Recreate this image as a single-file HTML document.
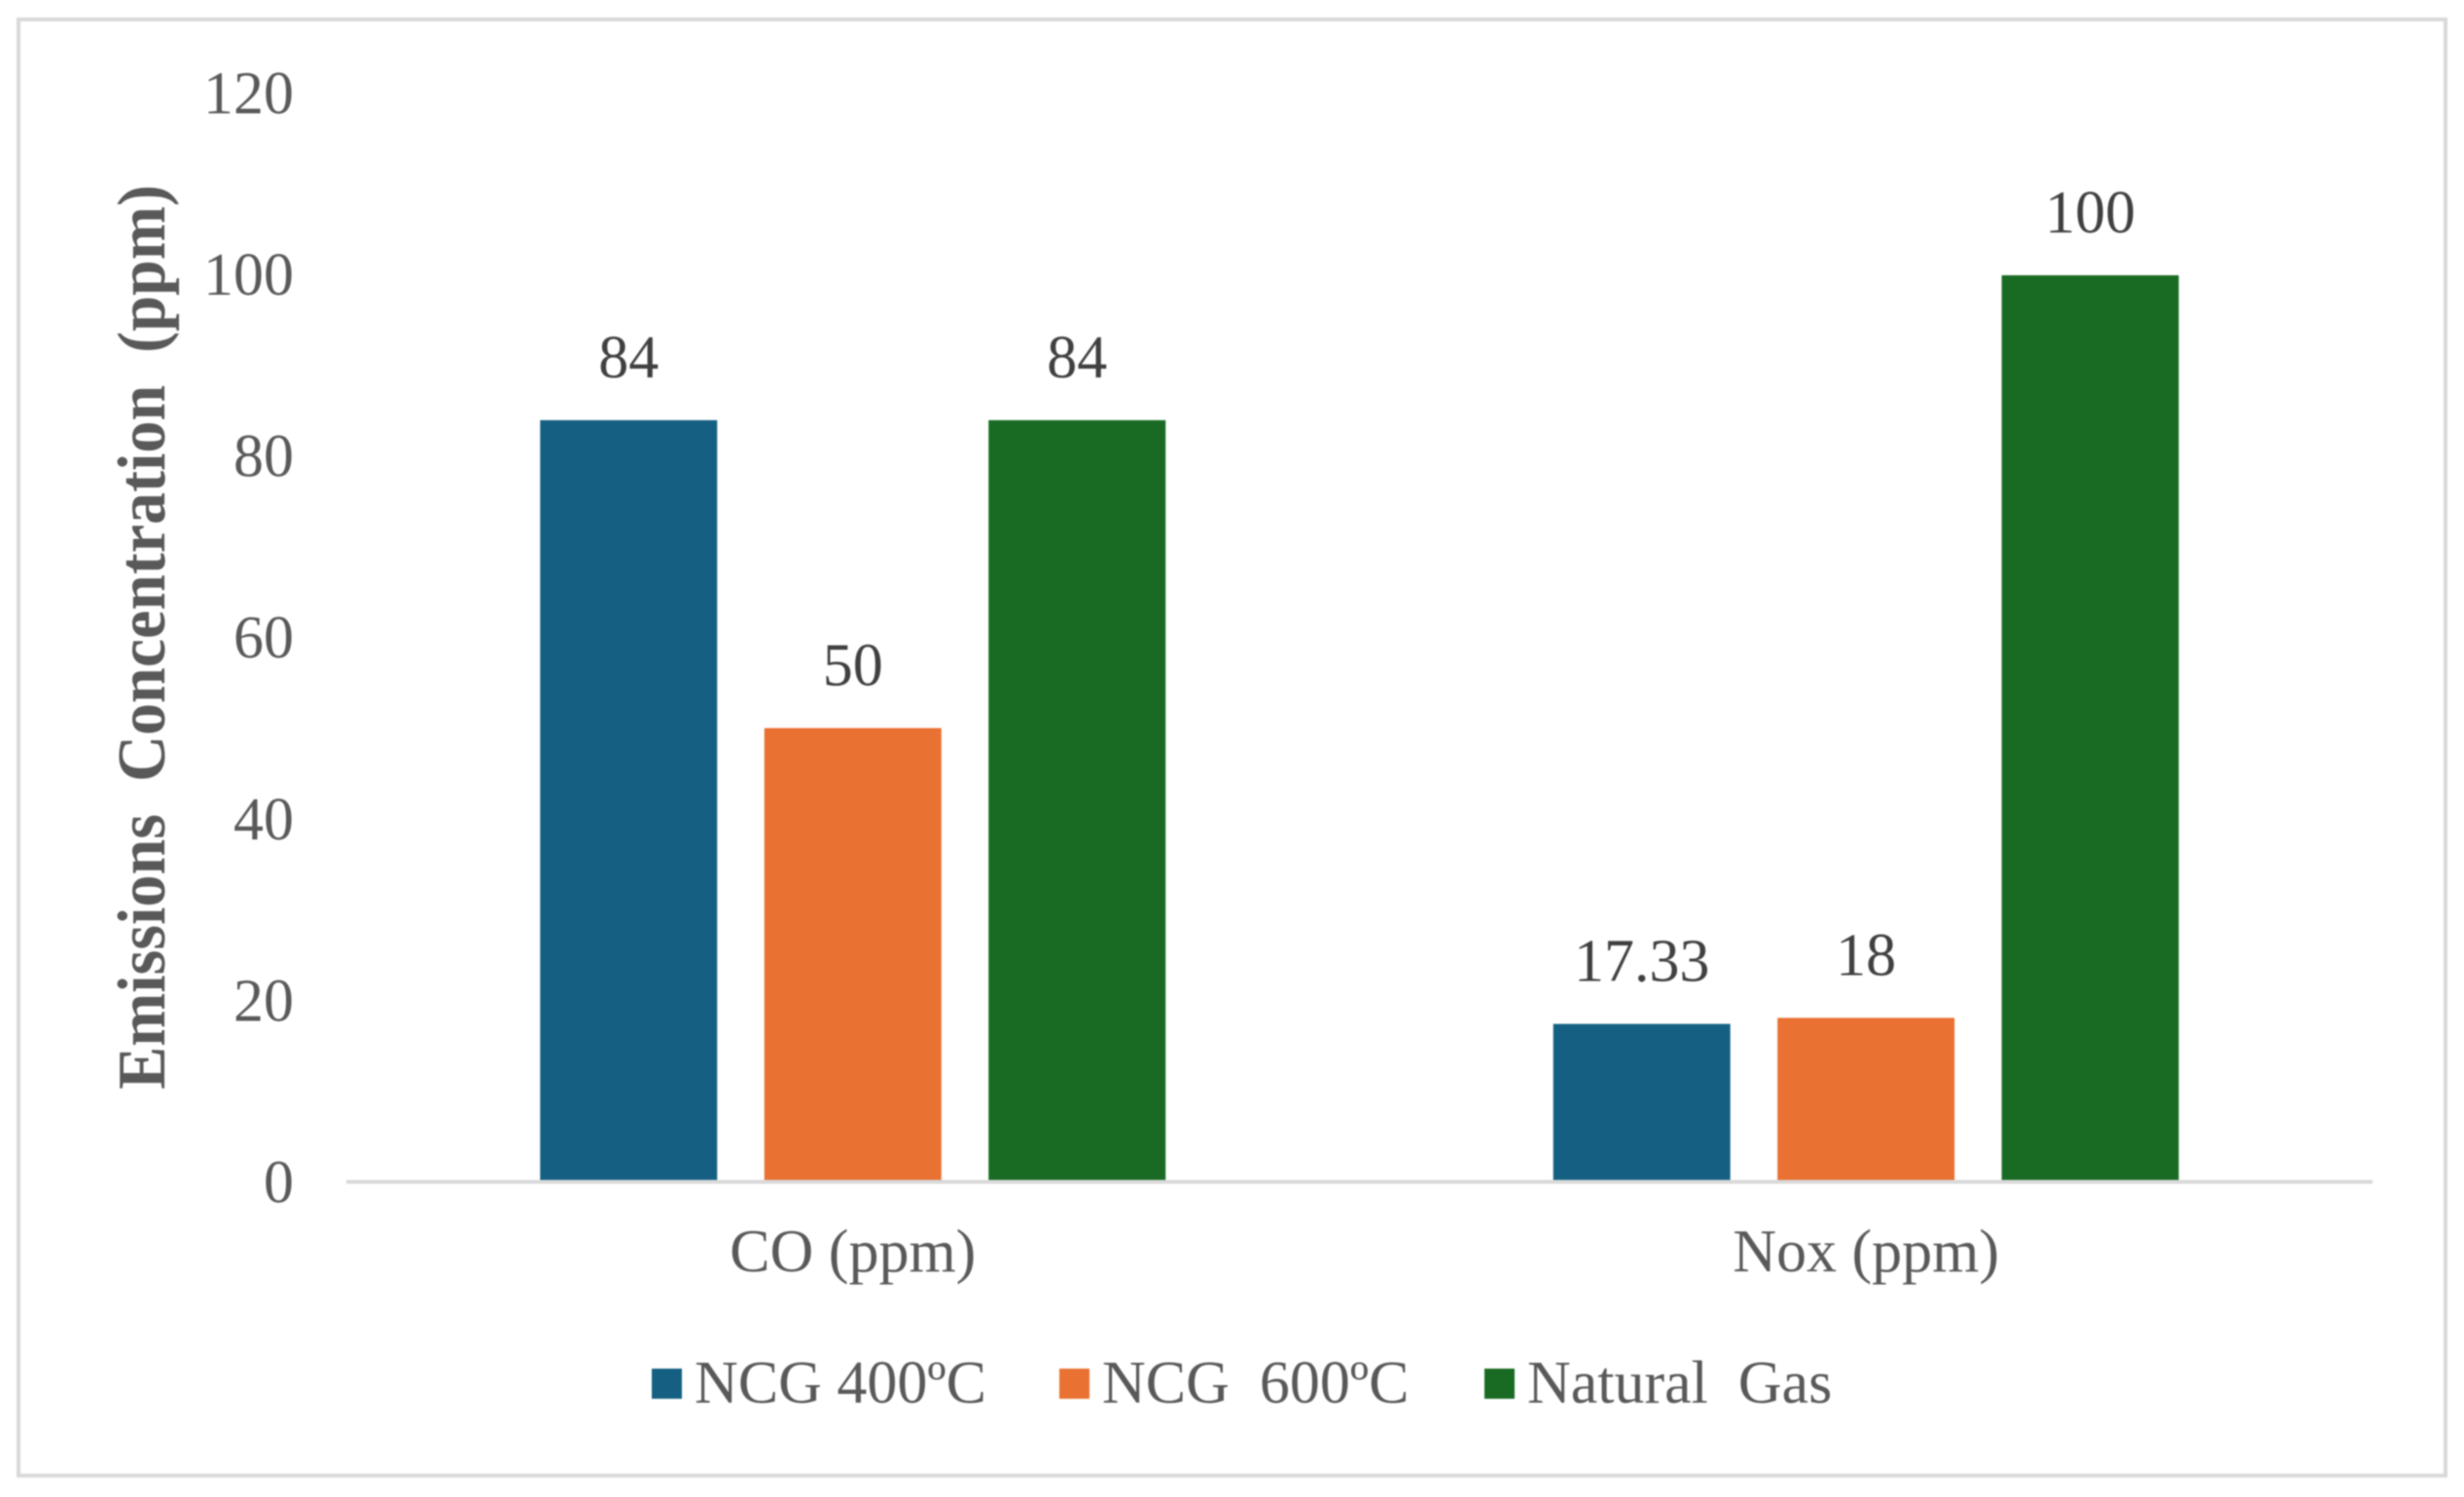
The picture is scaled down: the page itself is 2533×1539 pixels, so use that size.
<!DOCTYPE html>
<html>
<head>
<meta charset="utf-8">
<title>Emissions Concentration</title>
<style>
html,body{margin:0;padding:0;background:#fff;}
body{width:2533px;height:1539px;overflow:hidden;}
svg{display:block;filter:blur(0.9px);}
text{font-family:"Liberation Serif",serif;white-space:pre;}
</style>
</head>
<body>
<svg id="chart" xmlns="http://www.w3.org/2000/svg" width="2533" height="1539" viewBox="0 0 2533 1539">
  <rect x="19" y="20" width="2495" height="1497" fill="#fff" stroke="#d9d9d9" stroke-width="4"/>
  <text transform="translate(169,655) rotate(-90)" text-anchor="middle" font-size="70" font-weight="700" fill="#595959" textLength="930" lengthAdjust="spacingAndGlyphs" xml:space="preserve">Emissions  Concentration  (ppm)</text>
  <g id="ticks"></g>
  <g id="bars"></g>
  <g id="labels"></g>
  <line x1="356" y1="1215" x2="2439" y2="1215" stroke="#d9d9d9" stroke-width="4"/>
  <g id="cats"></g>
  <g id="legend"></g>
</svg>
<script>
var categories = ['CO (ppm)', 'Nox (ppm)'];
var seriesNames = ['NCG 400ºC', 'NCG  600ºC', 'Natural  Gas'];
var ncg400Values = [84, 17.33];
var ncg600Values = [50, 18];
var naturalGasValues = [84, 100];
var yTickValues = [0, 20, 40, 60, 80, 100, 120];

var seriesValues = [ncg400Values, ncg600Values, naturalGasValues];
var seriesColors = ['#156082', '#E97132', '#196B24'];
var legendSwatchX = [670, 1089, 1526];
var NS = 'http://www.w3.org/2000/svg';
var plotLeft = 356, plotRight = 2439, zeroY = 1214, unitPx = 9.31;
var barWidth = 182, barPitch = 230.5;

function yScale(v) { return zeroY - v * unitPx; }
function tickY(v) { return 1236 - v * 9.33; }
function catCenter(i) { return plotLeft + (plotRight - plotLeft) * (i + 0.5) / categories.length; }
function make(tag, parent, attrs, txt) {
  var el = document.createElementNS(NS, tag);
  for (var k in attrs) el.setAttribute(k, attrs[k]);
  if (txt !== undefined) {
    el.textContent = txt;
    el.setAttributeNS('http://www.w3.org/XML/1998/namespace', 'xml:space', 'preserve');
  }
  parent.appendChild(el);
  return el;
}

var ticksG = document.getElementById('ticks');
yTickValues.forEach(function (t) {
  var el = make('text', ticksG, {x: 302, y: tickY(t), 'text-anchor': 'end', 'font-size': 62, fill: '#595959'}, String(t));
  
  
});

var barsG = document.getElementById('bars');
var labelsG = document.getElementById('labels');
seriesValues.forEach(function (vals, s) {
  vals.forEach(function (v, c) {
    var cx = catCenter(c) + (s - 1) * barPitch;
    var top = yScale(v);
    var bar = make('rect', barsG, {x: cx - barWidth / 2, y: top, width: barWidth, height: zeroY - top, fill: seriesColors[s]});
    
    
    var lab = make('text', labelsG, {x: cx, y: top - 44, 'text-anchor': 'middle', 'font-size': 62, fill: '#404040'}, String(v));
    
    
  });
});

var catsG = document.getElementById('cats');
categories.forEach(function (name, c) {
  var el = make('text', catsG, {x: catCenter(c), y: 1307, 'text-anchor': 'middle', 'font-size': 62, fill: '#595959'}, name);
  
  
});

var legendG = document.getElementById('legend');
seriesNames.forEach(function (name, s) {
  var sw = make('rect', legendG, {x: legendSwatchX[s], y: 1407, width: 31, height: 31, fill: seriesColors[s]});
  
  
  var tx = make('text', legendG, {x: legendSwatchX[s] + 44, y: 1442, 'font-size': 62, fill: '#595959'}, name);
  
  
});
</script>
</body>
</html>
